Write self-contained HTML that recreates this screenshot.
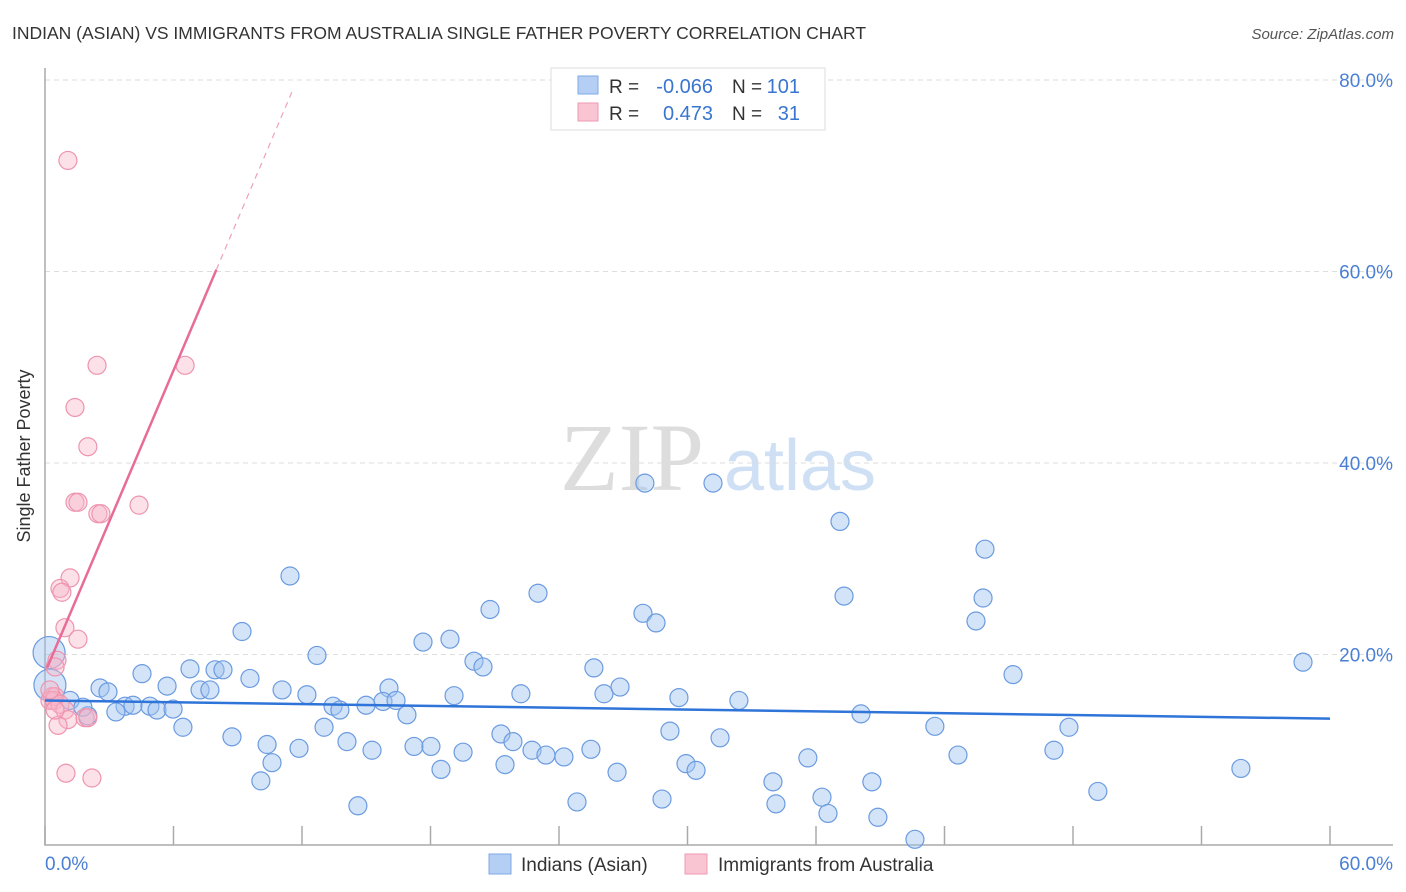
<!DOCTYPE html>
<html><head><meta charset="utf-8"><style>
body{margin:0;background:#fff;font-family:"Liberation Sans",sans-serif}
svg{display:block}
</style></head><body>
<svg id="chart" width="1406" height="892">
<text x="12" y="39" font-size="17.5" fill="#333">INDIAN (ASIAN) VS IMMIGRANTS FROM AUSTRALIA SINGLE FATHER POVERTY CORRELATION CHART</text>
<text x="1394" y="39" font-size="15" fill="#555" text-anchor="end" font-style="italic">Source: ZipAtlas.com</text>
<text x="30" y="456" font-size="18" fill="#333" text-anchor="middle" transform="rotate(-90 30 456)">Single Father Poverty</text>
<g><text x="632" y="490" font-size="96" font-family="Liberation Serif,serif" fill="#ddd" text-anchor="middle">ZIP</text><text x="800" y="490" font-size="72" fill="#cfe0f5" text-anchor="middle">atlas</text></g>
<g id="grid"></g><g id="axes"></g><g id="pts"></g><g id="trend"></g>
<g>
<rect x="551" y="68" width="274" height="62" fill="#fff" stroke="#ddd"/>
<rect x="578" y="76" width="20" height="18" fill="#b4cff3" stroke="#7fa8e6"/>
<rect x="578" y="103" width="20" height="18" fill="#f9c5d3" stroke="#ee9ab2"/>
<text x="609" y="93" font-size="19" fill="#333">R = </text><text x="713" y="93" font-size="20" fill="#3a75d0" text-anchor="end">-0.066</text>
<text x="732" y="93" font-size="19" fill="#333">N = </text><text x="800" y="93" font-size="20" fill="#3a75d0" text-anchor="end">101</text>
<text x="609" y="120" font-size="19" fill="#333">R = </text><text x="713" y="120" font-size="20" fill="#3a75d0" text-anchor="end">0.473</text>
<text x="732" y="120" font-size="19" fill="#333">N = </text><text x="800" y="120" font-size="20" fill="#3a75d0" text-anchor="end">31</text>
</g>
<g>
<rect x="489" y="854" width="22" height="20" fill="#b4cff3" stroke="#7fa8e6"/>
<text x="521" y="871" font-size="19" fill="#333">Indians (Asian)</text>
<rect x="685" y="854" width="22" height="20" fill="#f9c5d3" stroke="#ee9ab2"/>
<text x="718" y="871" font-size="19" fill="#333">Immigrants from Australia</text>
</g>
</svg>
<script>
const yTicks=[20,40,60,80];
const yTickLabels=["20.0%","40.0%","60.0%","80.0%"];
const xTicks=[0,6,12,18,24,30,36,42,48,54,60];
const blueX=[11.44,28.01,31.19,37.12,43.89,23.02,20.78,37.31,43.8,27.92,28.53,43.47,9.2,17.65,18.91,12.7,20.03,20.45,25.63,58.74,45.2,4.53,6.77,7.94,8.31,9.57,5.7,2.57,2.94,7.24,7.7,11.07,12.23,16.06,22.22,26.1,26.85,29.6,32.4,19.1,15.78,16.39,14.99,13.45,13.77,3.74,4.11,4.9,5.23,5.98,3.31,2.0,1.17,1.77,16.9,38.1,6.44,13.03,41.55,47.81,8.73,10.37,11.86,14.1,15.27,17.23,18.02,19.52,21.29,21.85,22.74,23.39,24.23,25.49,29.18,31.52,47.11,42.63,35.62,10.6,18.49,21.48,26.71,29.93,30.4,55.84,10.08,33.99,38.61,49.16,14.61,24.84,28.81,34.13,36.28,36.56,38.89,40.62,0.19,0.23];
const blueY=[28.2,37.9,37.9,33.9,31.0,26.4,24.7,26.1,25.9,24.3,23.3,23.5,22.4,21.3,21.6,19.9,19.3,18.7,18.6,19.2,17.9,18.0,18.5,18.4,18.4,17.5,16.7,16.5,16.1,16.3,16.3,16.3,15.8,16.5,15.9,15.9,16.6,15.5,15.2,15.7,15.1,15.2,14.7,14.6,14.2,14.6,14.7,14.6,14.2,14.3,14.0,13.6,15.2,14.5,13.7,13.8,12.4,12.4,12.5,12.4,11.4,10.6,10.2,10.9,10.0,10.4,10.4,9.8,11.7,10.9,10.0,9.5,9.3,10.1,12.0,11.3,10.0,9.5,9.2,8.7,8.0,8.5,7.7,8.6,7.9,8.1,6.8,6.7,6.7,5.7,4.2,4.6,4.9,4.4,5.1,3.4,3.0,0.7,20.2,16.8];
const pinkX=[1.07,2.43,6.54,1.4,2.0,1.4,1.54,2.47,2.61,4.39,1.17,0.7,0.79,0.93,1.54,0.56,0.47,0.33,0.47,0.23,0.42,0.7,0.93,1.07,0.61,1.87,2.0,0.98,2.19,0.23,0.47];
const pinkY=[71.6,50.2,50.2,45.8,41.7,35.9,35.9,34.7,34.7,35.6,28.0,26.9,26.5,22.8,21.6,19.4,18.7,15.6,15.6,15.2,15.2,14.8,14.2,13.2,12.6,13.4,13.4,7.6,7.1,16.3,14.2];
const blueTrend=[15.2,13.3]; // y at x=0 and x=60
const pinkTrend=[18.1,5.26]; // intercept, slope
const X=v=>45+v/60*1285, Y=v=>846-v/20*191.5;
const NS="http://www.w3.org/2000/svg";
function mk(parent,tag,attrs){const e=document.createElementNS(NS,tag);for(const k in attrs)e.setAttribute(k,attrs[k]);document.getElementById(parent).appendChild(e);return e;}
yTicks.forEach((t,i)=>{
 const g=mk('grid','line',{x1:45,x2:1393,y1:Y(t),y2:Y(t),stroke:'#ddd','stroke-dasharray':'5,4'});
 
 
 const l=mk('axes','text',{x:1393,y:Y(t)+7,'font-size':19,fill:'#4a7fd4','text-anchor':'end'});
 l.textContent=yTickLabels[i];
 
 
});
const ax=mk('axes','path',{d:'M45 68V845H1393',fill:'none',stroke:'#aaa','stroke-width':1.5});


xTicks.forEach(t=>{
 const k=mk('axes','line',{x1:X(t),x2:X(t),y1:826,y2:845,stroke:'#aaa','stroke-width':1.5});
 
 
});
const xl0=mk('axes','text',{x:45,y:870,'font-size':19,fill:'#4a7fd4'});xl0.textContent='0.0%';


const xl1=mk('axes','text',{x:1393,y:870,'font-size':19,fill:'#4a7fd4','text-anchor':'end'});xl1.textContent='60.0%';


blueX.forEach((x,i)=>{
 const big=i>=blueX.length-2;
 const c=mk('pts','circle',{cx:X(x),cy:Y(blueY[i]),r:big?16:9,fill:'rgba(160,195,240,0.45)',stroke:'#6b9be0','stroke-width':1.2});
 
 
});
pinkX.forEach((x,i)=>{
 const c=mk('pts','circle',{cx:X(x),cy:Y(pinkY[i]),r:9,fill:'rgba(248,180,200,0.4)',stroke:'#ee94ae','stroke-width':1.2});
 
 
});
const bt=mk('trend','line',{x1:X(0),y1:Y(blueTrend[0]),x2:X(60),y2:Y(blueTrend[1]),stroke:'#2f74d8','stroke-width':2.5});


const pt=mk('trend','line',{x1:X(0.1),y1:Y(pinkTrend[0]+pinkTrend[1]*0.1),x2:X(8),y2:Y(pinkTrend[0]+pinkTrend[1]*8),stroke:'#e86c98','stroke-width':2.5});


const pd=mk('trend','line',{x1:X(8),y1:Y(pinkTrend[0]+pinkTrend[1]*8),x2:X(11.6),y2:Y(pinkTrend[0]+pinkTrend[1]*11.6),stroke:'#eea0bb','stroke-width':1.2,'stroke-dasharray':'6,5'});


</script>
</body></html>
